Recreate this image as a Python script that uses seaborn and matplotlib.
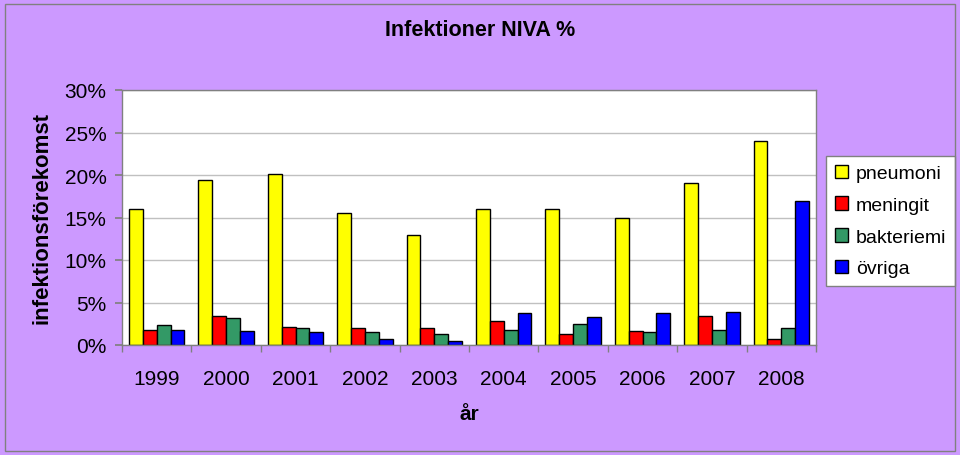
import matplotlib
matplotlib.use("Agg")
import matplotlib.pyplot as plt
import seaborn as sns
import pandas as pd
from matplotlib.patches import Rectangle
from matplotlib.ticker import FixedLocator

years = ["1999", "2000", "2001", "2002", "2003", "2004", "2005", "2006", "2007", "2008"]
series = ["pneumoni", "meningit", "bakteriemi", "övriga"]
pneumoni = [16.0, 19.4, 20.1, 15.5, 13.0, 16.0, 16.0, 15.0, 19.1, 24.0]
meningit = [1.8, 3.4, 2.1, 1.95, 1.95, 2.8, 1.3, 1.6, 3.4, 0.65]
bakteriemi = [2.3, 3.2, 1.95, 1.5, 1.3, 1.8, 2.45, 1.5, 1.8, 1.95]
ovriga = [1.8, 1.6, 1.5, 0.67, 0.5, 3.8, 3.3, 3.8, 3.9, 17.0]
yticks = [0, 5, 10, 15, 20, 25, 30]
colors = ["#FFFF00", "#FF0000", "#339966", "#0000FF"]

rows = []
for s, vals in zip(series, [pneumoni, meningit, bakteriemi, ovriga]):
    for y, v in zip(years, vals):
        rows.append({"år": y, "serie": s, "värde": v})
df = pd.DataFrame(rows)

sns.set_theme(style="white")
plt.rcParams["font.family"] = ["Liberation Sans", "DejaVu Sans"]
plt.rcParams["text.color"] = "black"
plt.rcParams["axes.labelcolor"] = "black"
plt.rcParams["xtick.color"] = "black"
plt.rcParams["ytick.color"] = "black"

fig = plt.figure(figsize=(9.6, 4.56), dpi=100, facecolor="#CC99FF")
fig.patches.append(Rectangle((5/960, 4/456), 950/960, 447/456, transform=fig.transFigure,
                             fill=False, edgecolor="#808080", linewidth=1))
ax = fig.add_axes([122/960, 110/456, 694/960, 255/456])
ax.set_facecolor("white")

sns.barplot(data=df, x="år", y="värde", hue="serie", hue_order=series, order=years,
            palette=colors, width=0.8, edgecolor="black", linewidth=1, saturation=1,
            ax=ax, legend=True)

ax.set_ylim(0, 30)
ax.set_xlim(-0.5, len(years) - 0.5)
ax.set_yticks(yticks)
ax.set_yticklabels([f"{t}%" for t in yticks])
ax.yaxis.grid(True, color="#C0C0C0", linewidth=1)
ax.set_axisbelow(True)
for sp in ax.spines.values():
    sp.set_color("#808080")
    sp.set_linewidth(1)
ax.tick_params(axis="y", which="major", direction="out", length=5, color="#808080",
               labelcolor="black", labelsize=15, pad=6, left=True)
ax.tick_params(axis="x", which="major", length=0, labelsize=15, pad=17, labelcolor="black")
ax.xaxis.set_minor_locator(FixedLocator([i - 0.5 for i in range(len(years) + 1)]))
ax.tick_params(axis="x", which="minor", direction="out", length=5, color="#808080", bottom=True)

ax.set_xlabel("år", fontsize=15, fontweight="bold", labelpad=12, color="black")
ax.set_ylabel("infektionsförekomst", fontsize=16, fontweight="bold", labelpad=9, color="black")
fig.text(0.5, 1 - 31/456, "Infektioner NIVA %", ha="center", va="center",
         fontsize=15.5, fontweight="bold", color="black")

handles, labels = ax.get_legend_handles_labels()
ax.legend(handles, labels, loc="upper left", bbox_to_anchor=(826/960, 1 - 157/456),
          bbox_transform=fig.transFigure, frameon=True, fancybox=False, edgecolor="#808080",
          facecolor="white", framealpha=1, fontsize=14, handlelength=0.7, handleheight=0.7,
          handletextpad=0.4, labelspacing=0.72, borderpad=0.45, borderaxespad=0)

fig.savefig("out.png", dpi=100, facecolor=fig.get_facecolor())
